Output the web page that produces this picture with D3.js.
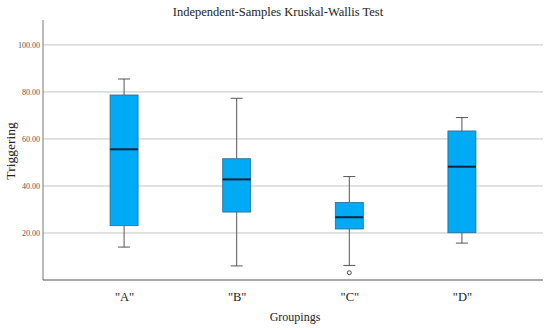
<!DOCTYPE html>
<html><head><meta charset="utf-8">
<script src="https://cdn.jsdelivr.net/npm/d3@7"></script>
<style>body{margin:0;background:#fff}svg{display:block}</style>
</head><body>
<svg id="c" width="550" height="328"></svg>
<script>
const categories = ['"A"', '"B"', '"C"', '"D"'];
const whiskerLow  = [14.0, 6.0, 6.2, 15.7];
const q1          = [23.1, 28.9, 21.7, 20.1];
const median      = [55.6, 42.8, 26.7, 48.2];
const q3          = [78.7, 51.6, 33.0, 63.4];
const whiskerHigh = [85.5, 77.3, 44.0, 69.1];
const outliers    = [[], [], [3.1], []];
const yTicks = [20, 40, 60, 80, 100];

(function () {
const svg = d3.select("#c");
const mL = 43, mR = 543, mT = 20, mB = 280;
const x = d3.scalePoint().domain(categories).range([mL, mR]).padding(0.72);
const y = d3.scaleLinear().domain([0, 110.6]).range([mB, mT]);

svg.append("g").selectAll("line").data(yTicks).join("line")
  .attr("x1", mL).attr("x2", mR)
  .attr("y1", d => y(d)).attr("y2", d => y(d))
  .attr("stroke", "#c4c4c4").attr("stroke-width", 1);

const yAxis = svg.append("g").attr("transform", `translate(${mL},0)`)
  .call(d3.axisLeft(y).tickValues(yTicks).tickSize(0).tickPadding(3).tickFormat(d3.format(".2f")));
yAxis.select(".domain").remove();
yAxis.selectAll("text").attr("font-family", "Liberation Serif").attr("font-size", 8).attr("fill", "#555");
svg.append("line").attr("x1", mL).attr("x2", mL).attr("y1", mT).attr("y2", mB)
  .attr("stroke", "#777").attr("stroke-width", 1);

const xAxis = svg.append("g").attr("transform", `translate(0,${mB})`)
  .call(d3.axisBottom(x).tickSize(0).tickPadding(12));
xAxis.select(".domain").remove();
xAxis.selectAll("text").attr("font-family", "Liberation Serif").attr("font-size", 12.5).attr("fill", "#222");
svg.append("line").attr("x1", mL).attr("x2", mR).attr("y1", mB).attr("y2", mB)
  .attr("stroke", "#555").attr("stroke-width", 1.2);

const bw = 28, cap = 12;
const g = svg.append("g");
categories.forEach((c, i) => {
  const cx = x(c);
  g.append("line").attr("x1", cx).attr("x2", cx).attr("y1", y(whiskerHigh[i])).attr("y2", y(q3[i])).attr("stroke", "#555");
  g.append("line").attr("x1", cx).attr("x2", cx).attr("y1", y(q1[i])).attr("y2", y(whiskerLow[i])).attr("stroke", "#555");
  g.append("line").attr("x1", cx - cap/2).attr("x2", cx + cap/2).attr("y1", y(whiskerHigh[i])).attr("y2", y(whiskerHigh[i])).attr("stroke", "#555");
  g.append("line").attr("x1", cx - cap/2).attr("x2", cx + cap/2).attr("y1", y(whiskerLow[i])).attr("y2", y(whiskerLow[i])).attr("stroke", "#555");
  g.append("rect").attr("x", cx - bw/2).attr("y", y(q3[i])).attr("width", bw).attr("height", y(q1[i]) - y(q3[i]))
    .attr("fill", "#00AAF5").attr("stroke", "#2b6a8a").attr("stroke-width", 0.8);
  g.append("line").attr("x1", cx - bw/2).attr("x2", cx + bw/2).attr("y1", y(median[i])).attr("y2", y(median[i]))
    .attr("stroke", "#0f2438").attr("stroke-width", 2);
  outliers[i].forEach(v => {
    g.append("circle").attr("cx", cx).attr("cy", y(v)).attr("r", 2).attr("fill", "#fff").attr("stroke", "#444").attr("stroke-width", 1);
  });
});

svg.append("text").attr("x", 278).attr("y", 16).attr("text-anchor", "middle")
  .attr("font-family", "Liberation Serif").attr("font-size", 12.5).attr("fill", "#222")
  .text("Independent-Samples Kruskal-Wallis Test");
svg.append("text").attr("transform", "translate(15,151) rotate(-90)").attr("text-anchor", "middle")
  .attr("font-family", "Liberation Serif").attr("font-size", 13.5).attr("fill", "#222")
  .text("Triggering");
svg.append("text").attr("x", 295).attr("y", 321).attr("text-anchor", "middle")
  .attr("font-family", "Liberation Serif").attr("font-size", 12).attr("fill", "#222")
  .text("Groupings");
})();
</script>
</body></html>
